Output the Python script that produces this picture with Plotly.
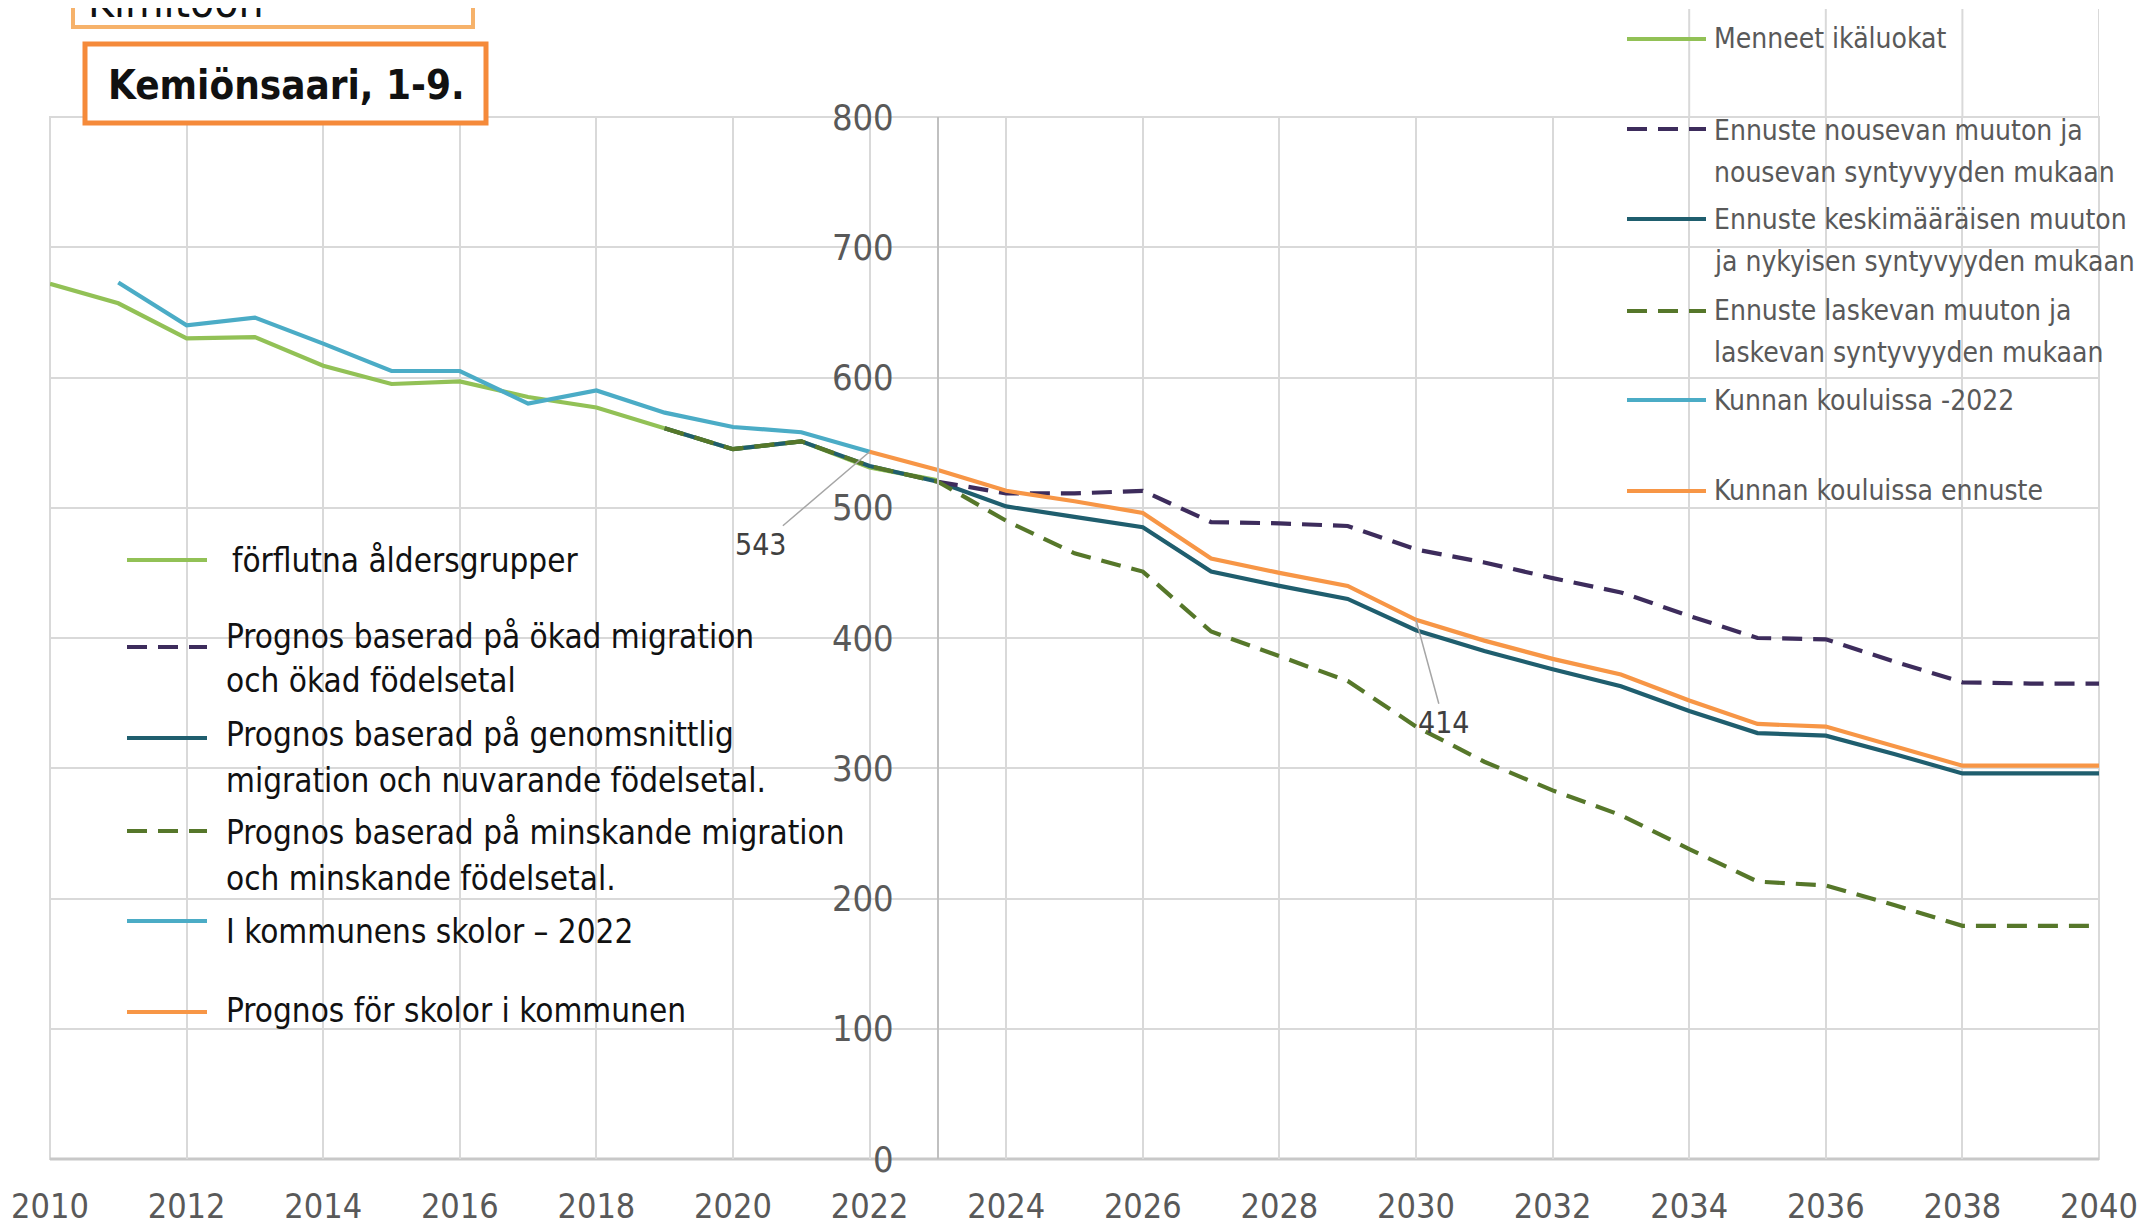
import plotly.graph_objects as go

# --- data ---
years_past = list(range(2010, 2024))
past = [672, 657, 630, 631, 609, 595, 597, 585, 577, 561, 545, 551, 531, 521]

years_school = list(range(2011, 2023))
school = [673, 640, 646, 626, 605, 605, 580, 590, 573, 562, 558, 543]

years_fc = list(range(2019, 2041))
fc_avg = [561, 545, 551, 532, 520, 501, 493, 485, 451, 440, 430, 406,
          390, 376, 363, 344, 327, 325, 311, 296, 296, 296]
fc_low = [561, 545, 551, 532, 520, 490, 465, 451, 405, 386, 367, 332,
          305, 283, 264, 238, 213, 210, 195, 179, 179, 179]

years_high = list(range(2023, 2041))
fc_high = [520, 511, 511, 513, 489, 488, 486, 468, 458, 446, 435, 417,
           400, 399, 382, 366, 365, 365]

years_school_fc = list(range(2022, 2041))
school_fc = [543, 529, 513, 505, 496, 461, 450, 440, 414, 398, 384, 372,
             352, 334, 332, 317, 302, 302, 302]

xticks = list(range(2010, 2041, 2))
yticks = [0, 100, 200, 300, 400, 500, 600, 700, 800]

# legend texts (one list per entry, one item per printed line)
names_fi = [['Menneet ikäluokat'],
            ['Ennuste nousevan muuton ja', 'nousevan syntyvyyden mukaan'],
            ['Ennuste keskimääräisen muuton', 'ja nykyisen syntyvyyden mukaan'],
            ['Ennuste laskevan muuton ja', 'laskevan syntyvyyden mukaan'],
            ['Kunnan kouluissa -2022'],
            ['Kunnan kouluissa ennuste']]
names_sv = [['förflutna åldersgrupper'],
            ['Prognos baserad på ökad migration', 'och ökad födelsetal'],
            ['Prognos baserad på genomsnittlig', 'migration och nuvarande födelsetal.'],
            ['Prognos baserad på minskande migration', 'och minskande födelsetal.'],
            ['I kommunens skolor – 2022'],
            ['Prognos för skolor i kommunen']]

GREEN = '#92c156'
PURPLE = '#3d2c5c'
TEAL = '#1f5e6e'
DKGREEN = '#56772a'
CYAN = '#4bacc6'
ORANGE = '#f79646'
DASH = '20px,11px'
colors = [GREEN, PURPLE, TEAL, DKGREEN, CYAN, ORANGE]
dashes = [None, DASH, None, DASH, None, None]

FONT = 'DejaVu Sans Condensed, Lato, sans-serif'

# the page puts the figure 8px in from the corner, so work in screen px
OFF = 8
W, H = 2146 - OFF, 1225 - OFF
L, R, T, B = 50, 2099, 117, 1159  # plot area in screen px


def px(x):
    return (x - L) / (R - L)


def py(y):
    return (B - y) / (B - T)


fig = go.Figure()
lw = 4.2
fig.add_trace(go.Scatter(x=years_past, y=past, mode='lines', line=dict(color=GREEN, width=lw)))
fig.add_trace(go.Scatter(x=years_fc, y=fc_avg, mode='lines', line=dict(color=TEAL, width=lw)))
fig.add_trace(go.Scatter(x=years_high, y=fc_high, mode='lines', line=dict(color=PURPLE, width=lw, dash=DASH)))
fig.add_trace(go.Scatter(x=years_fc, y=fc_low, mode='lines', line=dict(color=DKGREEN, width=lw, dash=DASH)))
fig.add_trace(go.Scatter(x=years_school, y=school, mode='lines', line=dict(color=CYAN, width=lw)))
fig.add_trace(go.Scatter(x=years_school_fc, y=school_fc, mode='lines', line=dict(color=ORANGE, width=lw)))

shapes = []
annotations = []

# frame and bottom line
shapes.append(dict(type='rect', xref='paper', yref='paper', x0=0, x1=1, y0=0, y1=1,
                   line=dict(color='#d9d9d9', width=2), layer='below'))
shapes.append(dict(type='line', xref='paper', yref='paper', x0=0, x1=1, y0=0, y1=0,
                   line=dict(color='#c8c8c8', width=3), layer='below'))
# gridlines running up behind the right legend
for yr in [2034, 2036, 2038, 2040]:
    shapes.append(dict(type='line', xref='x', yref='paper', x0=yr, x1=yr, y0=1, y1=py(9),
                       line=dict(color='#d9d9d9', width=2), layer='below'))

# title boxes
shapes.append(dict(type='rect', xref='paper', yref='paper', x0=px(73), x1=px(473), y0=py(27), y1=py(-20),
                   line=dict(color='#f6b26b', width=4)))
shapes.append(dict(type='rect', xref='paper', yref='paper', x0=px(85), x1=px(486), y0=py(123), y1=py(44),
                   line=dict(color='#f58a3a', width=5), fillcolor='white'))
annotations.append(dict(text='Kimitoön', xref='paper', yref='paper', x=px(86), y=py(29),
                        xanchor='left', yanchor='bottom', showarrow=False,
                        font=dict(family=FONT, size=44, color='#111111')))
annotations.append(dict(text='<b>Kemiönsaari, 1-9.</b>', xref='paper', yref='paper', x=px(286), y=py(85),
                        xanchor='center', yanchor='middle', showarrow=False,
                        font=dict(family=FONT, size=40, color='#111111')))

# right (Finnish) legend
fi_line_y = [39, 129, 219, 311, 400, 491]
fi_text_y = [[39], [130, 172], [219, 262], [311, 353], [400], [491]]
for i in range(6):
    shapes.append(dict(type='line', xref='paper', yref='paper', x0=px(1627), x1=px(1706),
                       y0=py(fi_line_y[i]), y1=py(fi_line_y[i]),
                       line=dict(color=colors[i], width=4, dash=dashes[i])))
    for txt, ty in zip(names_fi[i], fi_text_y[i]):
        annotations.append(dict(text=txt, xref='paper', yref='paper', x=px(1712), y=py(ty),
                                xanchor='left', yanchor='middle', align='left', showarrow=False,
                                font=dict(family=FONT, size=28, color='#595959')))

# left (Swedish) legend
sv_line_y = [560, 647, 738, 831, 921, 1012]
sv_text_y = [[560], [636, 681], [734, 780], [832, 878], [931], [1010]]
sv_text_x = [230, 224, 224, 224, 224, 224]
for i in range(6):
    shapes.append(dict(type='line', xref='paper', yref='paper', x0=px(127), x1=px(207),
                       y0=py(sv_line_y[i]), y1=py(sv_line_y[i]),
                       line=dict(color=colors[i], width=4, dash=dashes[i])))
    for txt, ty in zip(names_sv[i], sv_text_y[i]):
        annotations.append(dict(text=txt, xref='paper', yref='paper', x=px(sv_text_x[i]), y=py(ty),
                                xanchor='left', yanchor='middle', align='left', showarrow=False,
                                font=dict(family=FONT, size=33, color='#111111')))

# data labels
annotations.append(dict(text='543', x=2022, y=543, xref='x', yref='y', showarrow=True,
                        arrowhead=0, arrowwidth=1.5, arrowcolor='#a6a6a6', ax=-109, ay=93,
                        font=dict(family=FONT, size=30, color='#404040')))
annotations.append(dict(text='414', x=2030, y=414, xref='x', yref='y', showarrow=True,
                        arrowhead=0, arrowwidth=1.5, arrowcolor='#a6a6a6', ax=28, ay=103,
                        font=dict(family=FONT, size=30, color='#404040')))

fig.update_layout(
    width=W, height=H,
    margin=dict(l=L - OFF, r=W - (R - OFF), t=T - OFF, b=H - (B - OFF)),
    paper_bgcolor='white', plot_bgcolor='white',
    showlegend=False,
    shapes=shapes,
    annotations=annotations,
    xaxis=dict(range=[2010, 2040], tickvals=xticks, showgrid=True, gridcolor='#d9d9d9', gridwidth=2,
               zeroline=False, showline=False, ticks='', ticklabelstandoff=24, automargin=False,
               tickfont=dict(family=FONT, size=34, color='#595959')),
    yaxis=dict(range=[0, 800], tickvals=yticks, showgrid=True, gridcolor='#d9d9d9', gridwidth=2,
               zeroline=False, anchor='free', position=13 / 30, showline=True, automargin=False,
               linecolor='#c0c0c0', linewidth=2, ticks='', ticklabelstandoff=36,
               tickfont=dict(family=FONT, size=36, color='#595959')),
)

fig.write_html("out.html")
